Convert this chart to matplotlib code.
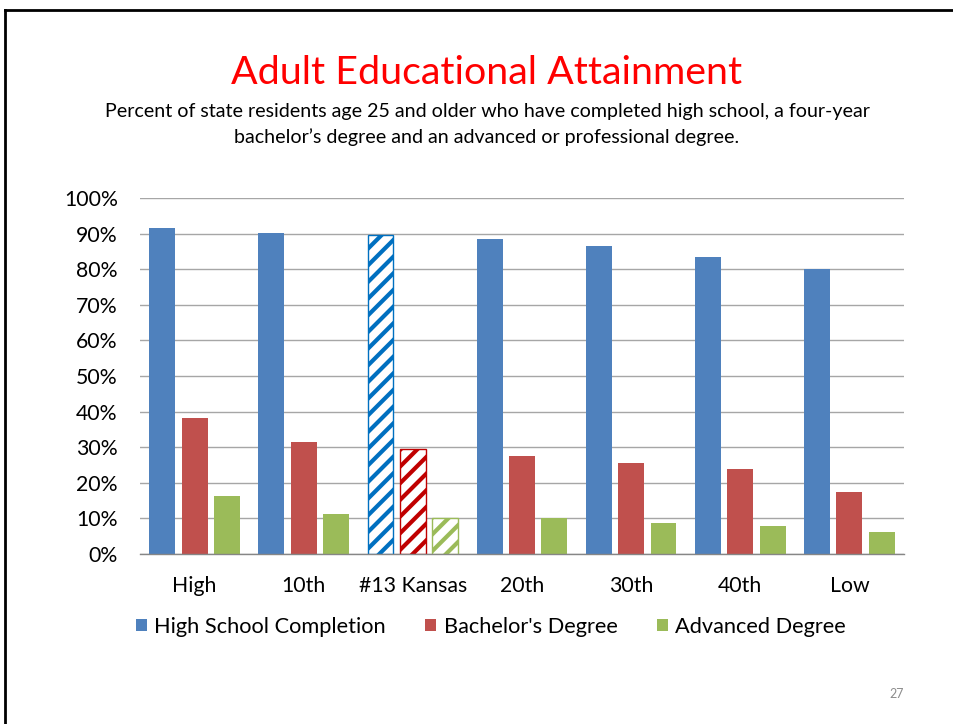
import matplotlib
matplotlib.use('Agg')
import matplotlib.pyplot as plt
from matplotlib.patches import Patch
from matplotlib.lines import Line2D
from matplotlib.ticker import FuncFormatter
import numpy as np

categories = ['High', '10th', '#13 Kansas', '20th', '30th', '40th', 'Low']
high_school = [91.6, 90.2, 89.6, 88.5, 86.5, 83.4, 80.0]
bachelors = [38.2, 31.5, 29.4, 27.4, 25.6, 23.8, 17.3]
advanced = [16.2, 11.3, 10.0, 10.0, 8.7, 7.9, 6.3]
series_names = ['High School Completion', "Bachelor's Degree", 'Advanced Degree']
highlight = '#13 Kansas'
y_ticks = [0, 10, 20, 30, 40, 50, 60, 70, 80, 90, 100]

plt.rcParams['font.family'] = ['Lato', 'DejaVu Sans']
plt.rcParams['hatch.linewidth'] = 3.0

fig = plt.figure(figsize=(9.54, 7.24), dpi=100)
fig.patch.set_facecolor('white')
ax = fig.add_axes([140/954, 1-554/724, 764/954, 356/724])

x = np.arange(len(categories))
width = 26/109.5
offsets = [-32.5/109.5, 0, 32.5/109.5]
colors = ['#4F81BD', '#C0504D', '#9BBB59']
hatch_colors = ['#0070C0', '#C00000', '#9BBB59']
k = categories.index(highlight)
for i, (vals, off) in enumerate(zip([high_school, bachelors, advanced], offsets)):
    bars = ax.bar(x + off, vals, width, color=colors[i], zorder=3, linewidth=0)
    b = bars[k]
    b.set_facecolor('white')
    b.set_edgecolor(hatch_colors[i])
    b.set_hatch('//')
    b.set_linewidth(1.0)

ax.set_xlim(-0.5, len(categories) - 0.5)
ax.set_ylim(0, 100)
ax.set_yticks(y_ticks)
ax.yaxis.set_major_formatter(FuncFormatter(lambda v, p: f'{int(v)}%'))
ax.set_xticks(x)
ax.set_xticklabels(categories)
ax.grid(axis='y', color='#A6A6A6', linewidth=1.0, zorder=0)
ax.set_axisbelow(True)
for s in ['left', 'right', 'top']:
    ax.spines[s].set_visible(False)
ax.spines['bottom'].set_color('#868686')
ax.spines['bottom'].set_linewidth(1.0)
ax.spines['bottom'].set_zorder(4)
ax.tick_params(axis='y', length=0, pad=16, labelsize=15.3, labelcolor='black')
ax.tick_params(axis='x', length=0, pad=16, labelsize=15.3, labelcolor='black')

handles = [Patch(facecolor=c, edgecolor='none', label=n) for c, n in zip(colors, series_names)]
fig.legend(handles=handles, loc='center', bbox_to_anchor=(491/954, 1-627/724), ncol=3,
           frameon=False, fontsize=15.7, handlelength=0.5, handleheight=0.5,
           handletextpad=0.35, columnspacing=1.8)

fig.text(487/954, 1-73/724, 'Adult Educational Attainment', color='#FF0000',
         fontsize=28.4, ha='center', va='center')
fig.text(487/954, 1-124.5/724,
         'Percent of state residents age 25 and older who have completed high school, a four-year\n'
         'bachelor\u2019s degree and an advanced or professional degree.',
         color='black', fontsize=14.1, ha='center', va='center', linespacing=1.55)
fig.text(897/954, 1-694/724, '27', color='#8C8C8C', fontsize=9, ha='center', va='center')

fig.add_artist(Line2D([5/954, 5/954], [0, 1-10/724], color='black', linewidth=2, transform=fig.transFigure))
fig.add_artist(Line2D([5/954, 1], [1-10/724, 1-10/724], color='black', linewidth=2, transform=fig.transFigure))

fig.savefig('out.png', dpi=100, facecolor='white')
